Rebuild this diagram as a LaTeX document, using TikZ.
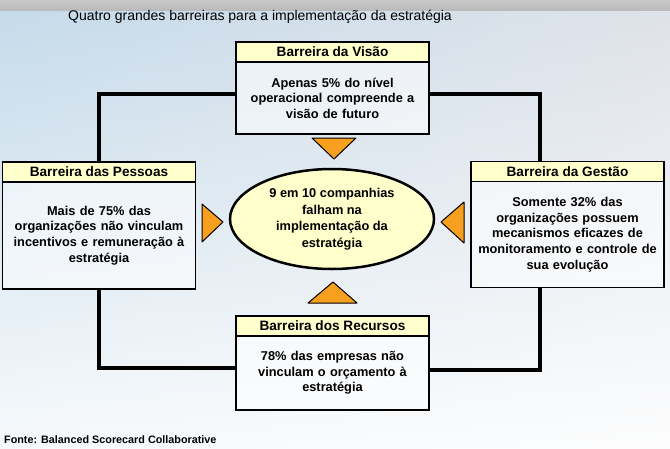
\documentclass[tikz,border=0pt]{standalone}
\usepackage{fontspec}
\setmainfont{Liberation Sans}
\usetikzlibrary{positioning,shapes.geometric,shadings}
\definecolor{headyellow}{RGB}{255,255,204}
\definecolor{arroworange}{RGB}{247,160,32}
\definecolor{bgblue}{RGB}{196,218,234}
\definecolor{bggray}{RGB}{222,226,232}
\definecolor{bandgray}{RGB}{186,186,186}

\begin{document}
\begin{tikzpicture}[x=1pt,y=-1pt,
  head/.style={draw, line width=1.5pt, fill=headyellow, minimum width=193pt, minimum height=20pt,
    inner sep=0pt, font=\fontsize{13.6}{15}\selectfont\bfseries},
  body/.style={draw, line width=1.5pt, fill=white, fill opacity=0.55, text opacity=1,
    minimum width=193pt, inner sep=0pt, align=center, text width=190pt,
    font=\fontsize{12.8}{15.6}\selectfont\bfseries},
  link/.style={line width=4pt},
  tri/.style={draw, line width=1pt, line join=round, fill=arroworange}]
\useasboundingbox (0,0) rectangle (670,448);

% fundo
\shade[upper left=bgblue, upper right=bggray, lower left=white!85!bgblue, lower right=white!92!bggray]
  (0,0) rectangle (670,448);
\shade[top color=bandgray!80, bottom color=bandgray] (0,0) rectangle (670,10);

\node[font=\fontsize{14}{16}\selectfont] (title) at (260,17) {Quatro grandes barreiras para a implementação da estratégia};

% barreiras
\node[head] (visaoHead) at (332.5,52) {Barreira da Visão};
\node[body, minimum height=72pt, below=-1.5pt of visaoHead] (visao)
  {Apenas 5\% do nível\\operacional compreende a\\visão de futuro};

\node[head] (pessoasHead) at (99,172) {Barreira das Pessoas};
\node[body, minimum height=107pt, below=-1.5pt of pessoasHead] (pessoas)
  {Mais de 75\% das\\organizações não vinculam\\incentivos e remuneração à\\estratégia};

\node[head] (gestaoHead) at (567.5,171.5) {Barreira da Gestão};
\node[body, minimum height=106pt, below=-1.5pt of gestaoHead] (gestao)
  {Somente 32\% das\\organizações possuem\\mecanismos eficazes de\\monitoramento e controle de\\sua evolução};

\node[head] (recursosHead) at (332.5,326) {Barreira dos Recursos};
\node[body, minimum height=74pt, below=-1.5pt of recursosHead] (recursos)
  {78\% das empresas não\\vinculam o orçamento à\\estratégia};

% centro
\node[ellipse, draw, line width=2.5pt, fill=headyellow, minimum width=204pt, minimum height=100pt,
  inner sep=0pt, align=center, font=\fontsize{12.8}{16.5}\selectfont\bfseries] (falha) at (332,219)
  {9 em 10 companhias\\falham na\\implementação da\\estratégia};

% ligacoes
\draw[link] ([yshift=4pt]visao.west) -| (pessoasHead.north);
\draw[link] ([yshift=4pt]visao.east) -| ([xshift=-28pt]gestaoHead.north);
\draw[link] (pessoas.south) |- ([yshift=5pt]recursos.west);
\draw[link] ([xshift=-28pt]gestao.south) |- ([yshift=3pt]recursos.east);

% setas
\draw[tri] (312,138) -- (356,138) -- (334,159) -- cycle;
\draw[tri] (202,204) -- (202,242) -- (223,222) -- cycle;
\draw[tri] (464,202) -- (464,243) -- (441,222) -- cycle;
\draw[tri] (308,303) -- (357,303) -- (333,282) -- cycle;

\node[anchor=west, inner sep=0pt, font=\fontsize{10.8}{12}\selectfont\bfseries] (fonte) at (4,440)
  {Fonte: Balanced Scorecard Collaborative};
\end{tikzpicture}
\end{document}
